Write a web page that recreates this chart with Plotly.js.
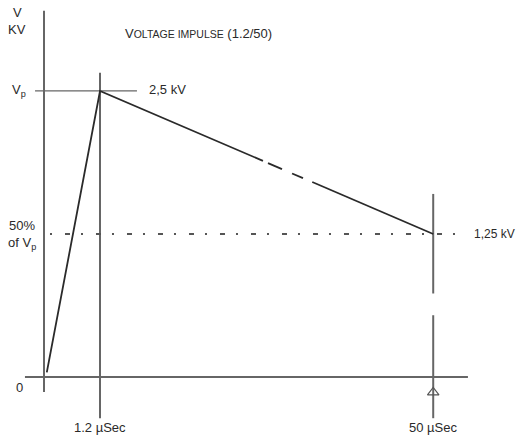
<!DOCTYPE html>
<html>
<head>
<meta charset="utf-8">
<script src="https://cdn.plot.ly/plotly-3.0.1.min.js"></script>
<style>html,body{margin:0;padding:0;background:#fff;}#chart{width:519px;height:438px;}</style>
</head>
<body>
<div id="chart"></div>
<script>
// ---- Data (schematic, time axis not to scale) ----
const timeLabels = ['0', '1.2 µSec', '50 µSec'];
const timePos = [0, 1, 6.95];            // schematic positions of 0, 1.2 µs, 50 µs
const peakKV = 2.5;                       // Vp
const halfKV = 1.25;                      // 50% of Vp
const peakLabel = '2,5 kV';
const halfLabel = '1,25 kV';

// Impulse waveform (front rises to peak at 1.2 µs, tail decays to 50% at 50 µs)
// null entries are the gaps of the broken tail line in the drawing
const waveT = [0.05, 1, 3.91, null, 4.0, 4.25, null, 4.43, 4.625, null, 4.79, 6.95];
const waveV = [0.04, 2.5, 1.889, null, 1.870, 1.817, null, 1.779, 1.738, null, 1.704, 1.25];

// Axis/guide line extents
const yAxisT = [0, 0];        const yAxisV = [-0.13, 3.2];
const xAxisT = [-0.34, 7.57]; const xAxisV = [0, 0];
const t12LineT = [1, 1];      const t12LineV = [2.66, -0.36];
const t50LineT = [6.95, 6.95, null, 6.95, 6.95];
const t50LineV = [1.6, 0.73, null, 0.54, -0.36];
const vpLineT = [-0.16, 1.66]; const vpLineV = [2.5, 2.5];
const halfLineT = [0.107, 7.55]; const halfLineV = [1.25, 1.25];
const markerT = [6.95];        const markerV = [-0.135];

const axisCol = '#666666';
const inkCol = '#2a2a2a';
const FONT = 'Liberation Sans, Arial, sans-serif';

function line(x, y, color, width, dash) {
  return {x: x, y: y, mode: 'lines', type: 'scatter', hoverinfo: 'skip',
          showlegend: false, connectgaps: false,
          line: {color: color, width: width, dash: dash || 'solid'}};
}

const traces = [
  line(yAxisT, yAxisV, axisCol, 2),
  line(xAxisT, xAxisV, axisCol, 2),
  line(t12LineT, t12LineV, axisCol, 2),
  line(t50LineT, t50LineV, axisCol, 2),
  line(vpLineT, vpLineV, axisCol, 1.3),
  line(halfLineT, halfLineV, '#555555', 2, '2px,13px,5px,11px'),
  line(waveT, waveV, inkCol, 1.8),
  {x: markerT, y: markerV, mode: 'markers', type: 'scatter', hoverinfo: 'skip', showlegend: false,
   marker: {symbol: 'triangle-up-open', size: 10, color: '#555555', line: {width: 1.2, color: '#555555'}}}
];

function ann(text, x, y, xanchor, size) {
  return {text: text, x: x, y: y, xref: 'x', yref: 'y', xanchor: xanchor || 'center',
    yanchor: 'middle', showarrow: false, font: {family: FONT, size: size || 13, color: inkCol}};
}

const annotations = [
  ann('V', -0.48, 3.19, 'center', 13),
  ann('KV', -0.48, 3.04, 'center', 13),
  ann('V<span style="font-size:10.5px">OLTAGE IMPULSE</span> (1.2/50)', 1.41, 3.005, 'left', 13),
  ann('V<sub>p</sub>', -0.28, peakKV, 'right', 13),
  ann(peakLabel, 1.84, peakKV + 0.01, 'left', 13),
  ann('50%', -0.4, halfKV + 0.07, 'center', 13),
  ann('of V<sub>p</sub>', -0.4, halfKV - 0.08, 'center', 13),
  ann(halfLabel, 7.64, halfKV, 'left', 12),
  ann(timeLabels[0], -0.43, -0.09, 'center', 13),
  ann(timeLabels[1], timePos[1], -0.445, 'center', 13),
  ann(timeLabels[2], timePos[2], -0.445, 'center', 13)
];

const layout = {
  width: 519, height: 438, autosize: false,
  margin: {l: 0, r: 0, t: 0, b: 0, pad: 0},
  paper_bgcolor: '#ffffff', plot_bgcolor: '#ffffff',
  xaxis: {range: [-0.7857, 8.482], visible: false, fixedrange: true},
  yaxis: {range: [-0.533, 3.295], visible: false, fixedrange: true},
  annotations: annotations,
  showlegend: false
};

Plotly.newPlot('chart', traces, layout, {staticPlot: true, displayModeBar: false});
</script>
</body>
</html>
